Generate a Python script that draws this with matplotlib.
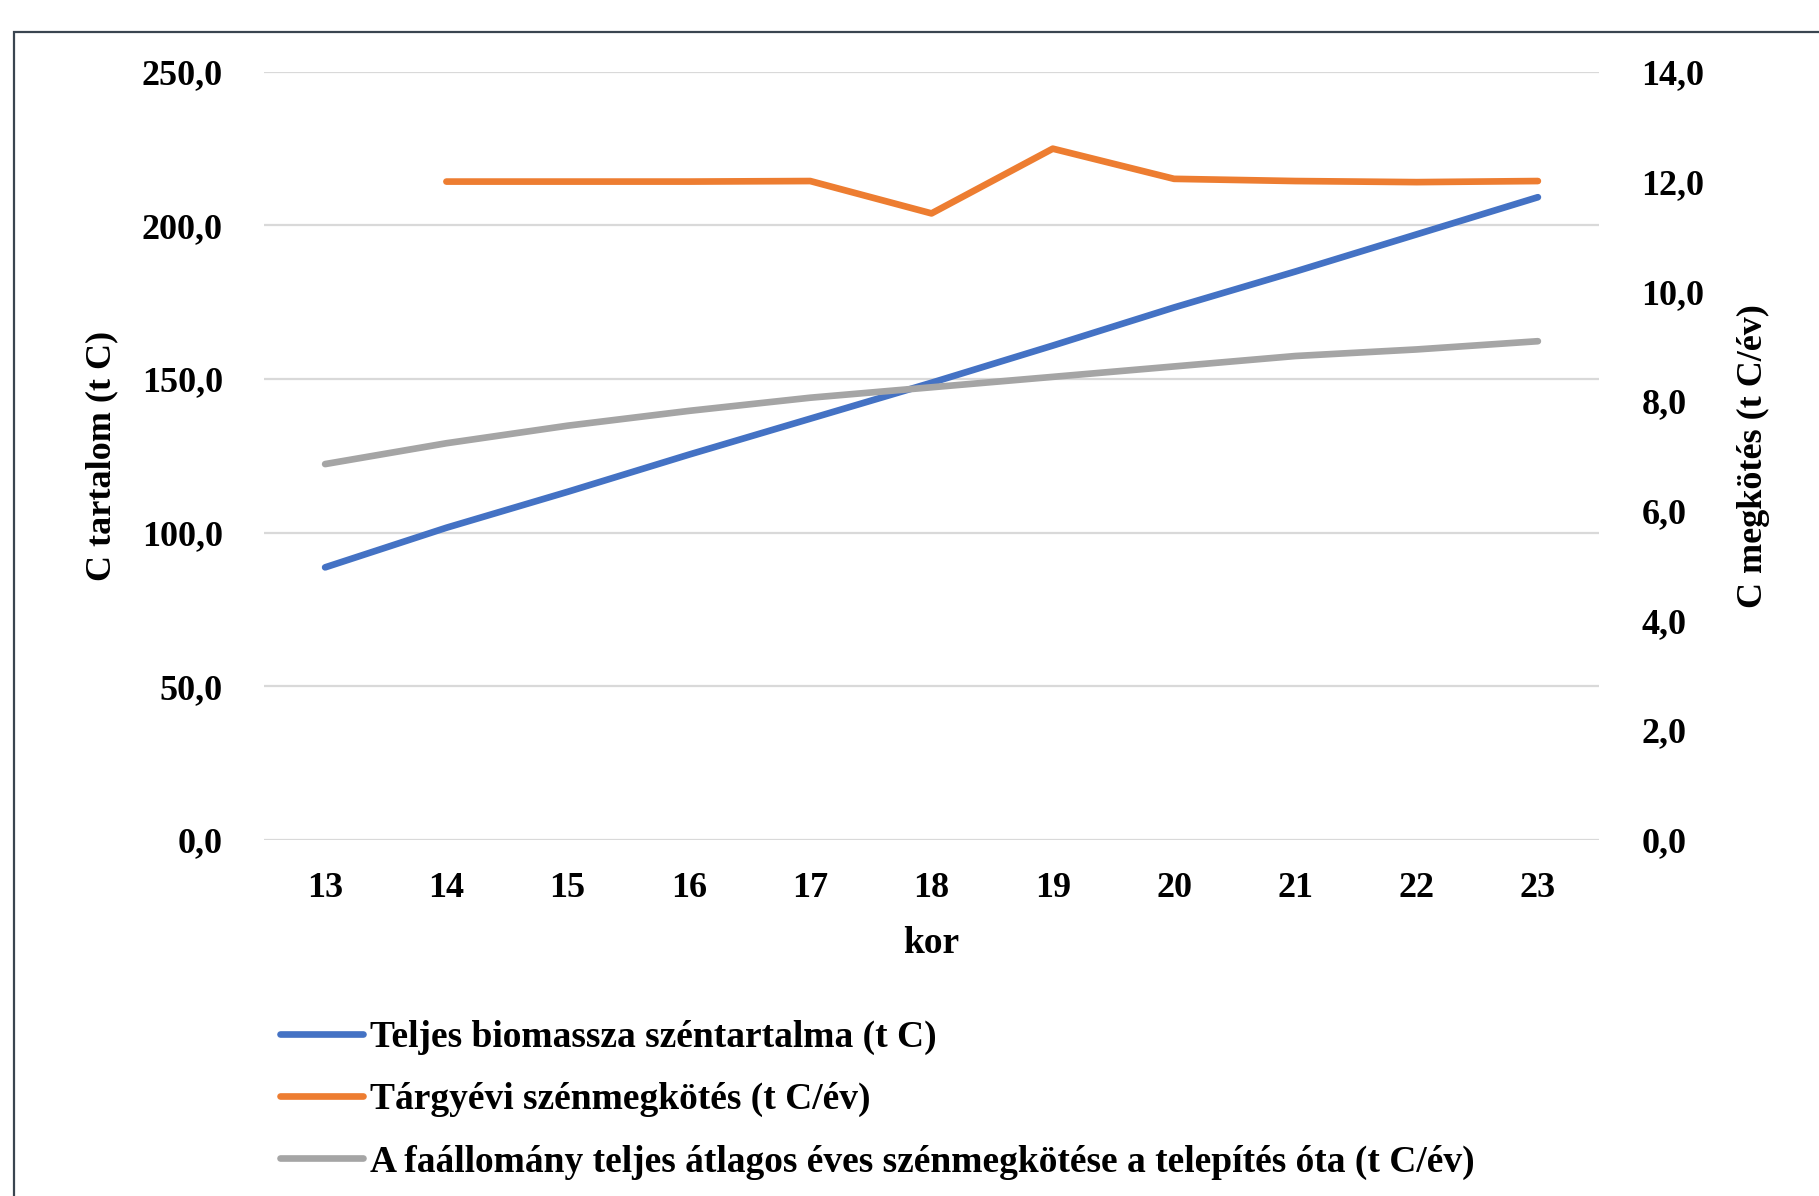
import matplotlib
matplotlib.use("Agg")
import matplotlib.pyplot as plt
from matplotlib.ticker import FuncFormatter, MultipleLocator
from matplotlib.patches import Rectangle

# adatok
kor = [13, 14, 15, 16, 17, 18, 19, 20, 21, 22, 23]
biomassza_c = [88.7, 101.6, 113.3, 125.4, 137.1, 148.8, 160.9, 173.3, 185.0, 197.1, 209.2]
targyevi_kor = [14, 15, 16, 17, 18, 19, 20, 21, 22, 23]
targyevi = [12.0, 12.0, 12.0, 12.01, 11.42, 12.6, 12.05, 12.01, 11.99, 12.01]
atlagos = [6.85, 7.23, 7.55, 7.82, 8.06, 8.25, 8.44, 8.63, 8.82, 8.94, 9.09]

labels = [
    "Teljes biomassza széntartalma (t C)",
    "Tárgyévi szénmegkötés (t C/év)",
    "A faállomány teljes átlagos éves szénmegkötése a telepítés óta (t C/év)",
]
colors = ["#4472C4", "#ED7D31", "#A5A5A5"]

plt.rcParams["font.family"] = ["Liberation Serif", "DejaVu Serif"]
plt.rcParams["font.weight"] = "bold"
fs = 26

fig = plt.figure(figsize=(18.19, 11.96), dpi=100)
ax = fig.add_axes([0.1454, 0.2978, 0.8788 - 0.1454, 0.9399 - 0.2978])
ax2 = ax.twinx()

# keret
fig.patches.append(Rectangle((0.0077, -0.1), 1.2, 1.073, transform=fig.transFigure,
                             fill=False, edgecolor="#3A4550", linewidth=1.6))

lw = 4.8
l1, = ax.plot(kor, biomassza_c, color=colors[0], lw=lw, solid_capstyle="round", zorder=3)
l2, = ax2.plot(targyevi_kor, targyevi, color=colors[1], lw=lw, solid_capstyle="round")
l3, = ax2.plot(kor, atlagos, color=colors[2], lw=lw, solid_capstyle="round")

ax.set_xlim(12.5, 23.5)
ax.set_ylim(0, 250)
ax2.set_ylim(0, 14)
ax.set_xticks(kor)
ax.yaxis.set_major_locator(MultipleLocator(50))
ax2.yaxis.set_major_locator(MultipleLocator(2))
fmt = FuncFormatter(lambda v, p: f"{v:.1f}".replace(".", ","))
ax.yaxis.set_major_formatter(fmt)
ax2.yaxis.set_major_formatter(fmt)

ax.grid(axis="y", color="#D9D9D9", lw=1.6)
ax.set_axisbelow(True)
for a in (ax, ax2):
    for s in a.spines.values():
        s.set_visible(False)
    a.tick_params(length=0, labelsize=fs)
ax.tick_params(axis="y", pad=30)
ax2.tick_params(axis="y", pad=31)
ax.tick_params(axis="x", pad=23)

ax.set_xlabel("kor", fontsize=fs + 1, fontweight="bold", labelpad=15)
ax.set_ylabel("C tartalom (t C)", fontsize=fs, fontweight="bold", labelpad=17)
ax2.set_ylabel("C megkötés (t C/év)", fontsize=fs, fontweight="bold",
               rotation=90, labelpad=23)

fig.legend([l1, l2, l3], labels, loc="upper left", bbox_to_anchor=(0.154, 0.147),
           frameon=False, fontsize=fs + 1, handlelength=2.2, handletextpad=0.19,
           labelspacing=0.72, borderpad=0, borderaxespad=0)

fig.savefig("out.png", dpi=100)
